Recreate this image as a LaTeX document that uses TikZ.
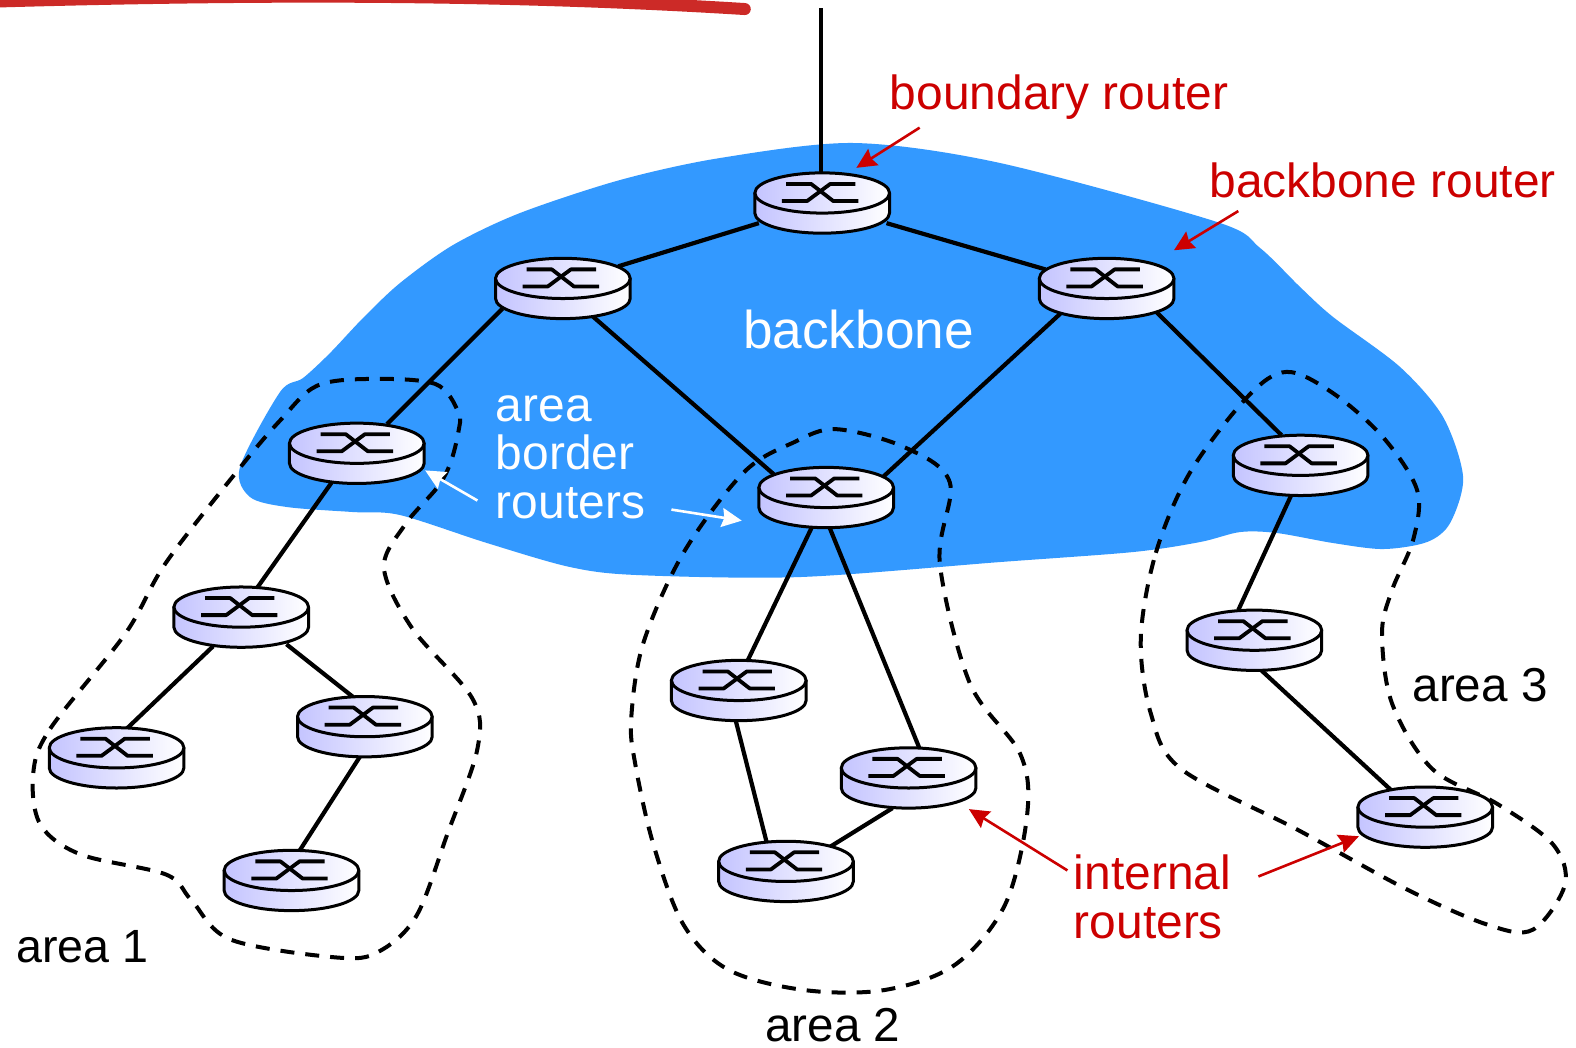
\documentclass[tikz,border=0pt]{standalone}
\usepackage{fontspec}
\setmainfont{Liberation Sans}
\usetikzlibrary{arrows.meta}
\definecolor{netblue}{HTML}{3399FF}
\definecolor{labelred}{HTML}{CC0000}
\definecolor{penred}{HTML}{CC2A27}
\definecolor{routerlav}{HTML}{C4C4FF}
\tikzset{
  x=0.5025pt,y=-0.5025pt,
  routerslot/.style={minimum width=67.3pt,minimum height=30.1pt,inner sep=0pt,outer sep=0pt},
  routerskin/.style={draw=black,line width=1.5pt,left color=routerlav,right color=white,line join=round},
  link/.style={draw=black,line width=2.1pt},
  areaedge/.style={draw=black,line width=2pt,dash pattern=on 7pt off 5.5pt},
  pointer/.style={line width=1.3pt,-{Stealth[length=10pt,width=9.5pt,inset=1.2pt]}},
  lbl/.style={font=\fontsize{23.95pt}{24.3pt}\selectfont,inner sep=0pt,anchor=base west,align=left},
  routericon/.pic={
    \path[routerskin] (-67,-10) -- (-67,10) .. controls (-67,21) and (-37,30) .. (0,30)
       .. controls (37,30) and (67,21) .. (67,10) -- (67,-10) -- cycle;
    \path[routerskin] (0,-10) ellipse[x radius=67,y radius=20];
    \draw[line width=1.9pt,line join=round] (-36,-19) -- (-11,-19) -- (11,-2) -- (36,-2);
    \draw[line width=1.9pt,line join=round] (-40,-2) -- (-15,-2) -- (8,-19) -- (33,-19);
  }
}
\begin{document}
\begin{tikzpicture}
\useasboundingbox (0,0) rectangle (1568,1042);
\fill[white] (0,0) rectangle (1568,1042);
% pen stroke
\draw[penred,line width=6pt,line cap=round] (-20,2) .. controls (250,-6) and (500,-6) .. (741,9);
% backbone blob
\begin{scope}[scale=0.995]
\fill[netblue] plot[smooth cycle,tension=0.5] coordinates {
 (240,467)(280,392)(303,378)(330,353)(363,318)(400,283)(453,245)(520,213)(620,180)(720,158)(854,143)(1000,163)(1217,222)(1260,248)(1300,287)(1333,317)(1400,367)(1443,417)(1463,477)(1450,523)(1427,542)(1383,549)(1333,543)(1277,533)(1240,532)(1200,542)(1133,552)(1000,562)(800,577)(637,575)(570,567)(487,543)(400,515)(353,512)(287,507)(250,497)};
\end{scope}
% areas
\draw[areaedge] plot[smooth cycle,tension=0.55] coordinates {
 (33,770)(50,725)(125,630)(165,560)(239,465)(279,418)(315,384)(368,377)(433,382)(456,410)(456,430)(448,461)(435,485)(403,522)(382,565)(410,625)(470,695)(475,745)(445,830)(415,910)(380,945)(340,953)(230,935)(190,895)(165,870)(80,850)(40,820)};
\draw[areaedge] plot[smooth cycle,tension=0.55] coordinates {
 (628,715)(640,640)(680,550)(740,470)(790,440)(832,427)(900,445)(945,480)(935,560)(965,680)(1015,750)(1022,810)(1000,900)(950,960)(880,985)(800,985)(725,965)(680,920)(650,840)(632,760)};
\draw[areaedge] plot[smooth cycle,tension=0.55] coordinates {
 (1135,635)(1150,550)(1184,470)(1241,395)(1280,370)(1326,391)(1376,435)(1410,488)(1406,537)(1385,587)(1375,630)(1385,700)(1425,765)(1490,800)(1545,840)(1557,880)(1525,925)(1480,920)(1400,885)(1290,825)(1175,765)(1145,710)};
% router anchors
\node[routerslot] (top) at (818,202) {};
\node[routerslot] (bl) at (560,287) {};
\node[routerslot] (br) at (1101,287) {};
\node[routerslot] (aa) at (355,451) {};
\node[routerslot] (ab) at (822,495) {};
\node[routerslot] (ac) at (1294,463) {};
\node[routerslot] (p) at (240,614) {};
\node[routerslot] (q) at (116,754) {};
\node[routerslot] (s) at (363,723) {};
\node[routerslot] (t) at (290,876) {};
\node[routerslot] (u) at (735,687) {};
\node[routerslot] (v) at (904,774) {};
\node[routerslot] (w) at (782,867) {};
\node[routerslot] (y) at (1248,637) {};
\node[routerslot] (z) at (1418,813) {};
\coordinate (ext) at (817,8);
% links
\draw[link] (ext) -- ([shift={(-1,-27)}]top.center);
\draw[link] ([shift={(-63,20)}]top.center) -- ([shift={(55,-22)}]bl.center);
\draw[link] ([shift={(64,20)}]top.center) -- ([shift={(-61,-19)}]br.center);
\draw[link] ([shift={(-60,20)}]bl.center) -- ([shift={(30,-29)}]aa.center);
\draw[link] ([shift={(30,28)}]bl.center) -- ([shift={(-52,-23)}]ab.center);
\draw[link] ([shift={(-46,25)}]br.center) -- ([shift={(56,-20)}]ab.center);
\draw[link] ([shift={(49,23)}]br.center) -- ([shift={(-19,-30)}]ac.center);
\draw[link] ([shift={(-25,29)}]aa.center) -- ([shift={(15,-28)}]p.center);
\draw[link] ([shift={(-28,29)}]p.center) -- ([shift={(9,-28)}]q.center);
\draw[link] ([shift={(45,27)}]p.center) -- ([shift={(-11,-29)}]s.center);
\draw[link] ([shift={(-5,30)}]s.center) -- ([shift={(7,-28)}]t.center);
\draw[link] ([shift={(-14,29)}]ab.center) -- ([shift={(8,-28)}]u.center);
\draw[link] ([shift={(3,29)}]ab.center) -- ([shift={(11,-29)}]v.center);
\draw[link] ([shift={(-3,30)}]u.center) -- ([shift={(-19,-28)}]w.center);
\draw[link] ([shift={(-16,30)}]v.center) -- ([shift={(43,-24)}]w.center);
\draw[link] ([shift={(-9,29)}]ac.center) -- ([shift={(-16,-30)}]y.center);
\draw[link] ([shift={(7,30)}]y.center) -- ([shift={(-33,-26)}]z.center);
% router icons
\foreach \r in {top,bl,br,aa,ab,ac,p,q,s,t,u,v,w,y,z}
  \pic at (\r) {routericon};
% labels
\node[lbl,text=labelred] (lboundary) at (885,109) {boundary router};
\node[lbl,text=labelred] (lbackbone) at (1203,196) {backbone router};
\node[lbl,text=white,font=\fontsize{26.6pt}{26pt}\selectfont] (lbb) at (739,347) {backbone};
\node[lbl,text=white,anchor=north west] (lborder) at (493,385) {\rule{0pt}{17pt}area\\ border\\ routers};
\node[lbl,text=labelred,anchor=north west] (linternal) at (1068,850) {\rule{0pt}{17pt}internal\\ routers};
\node[lbl,font=\fontsize{23.3pt}{24pt}\selectfont] (la) at (16,958) {area 1};
\node[lbl,font=\fontsize{23.8pt}{24pt}\selectfont] (lb) at (761,1036) {area 2};
\node[lbl,font=\fontsize{23.8pt}{24pt}\selectfont] (lc) at (1405,698) {area 3};
% pointers
\coordinate (n1) at (915,127); \coordinate (n2) at (852,167);
\coordinate (n3) at (1232,210); \coordinate (n4) at (1168,249);
\coordinate (n5) at (475,498); \coordinate (n6) at (423,468);
\coordinate (n7) at (668,507); \coordinate (n8) at (738,518);
\coordinate (n9) at (1062,866); \coordinate (n10) at (964,805);
\coordinate (n11) at (1252,872); \coordinate (n12) at (1352,832);
\draw[pointer,labelred] (n1) -- (n2);
\draw[pointer,labelred] (n3) -- (n4);
\draw[pointer,white] (n5) -- (n6);
\draw[pointer,white] (n7) -- (n8);
\draw[pointer,labelred] (n9) -- (n10);
\draw[pointer,labelred] (n11) -- (n12);
\end{tikzpicture}
\end{document}
